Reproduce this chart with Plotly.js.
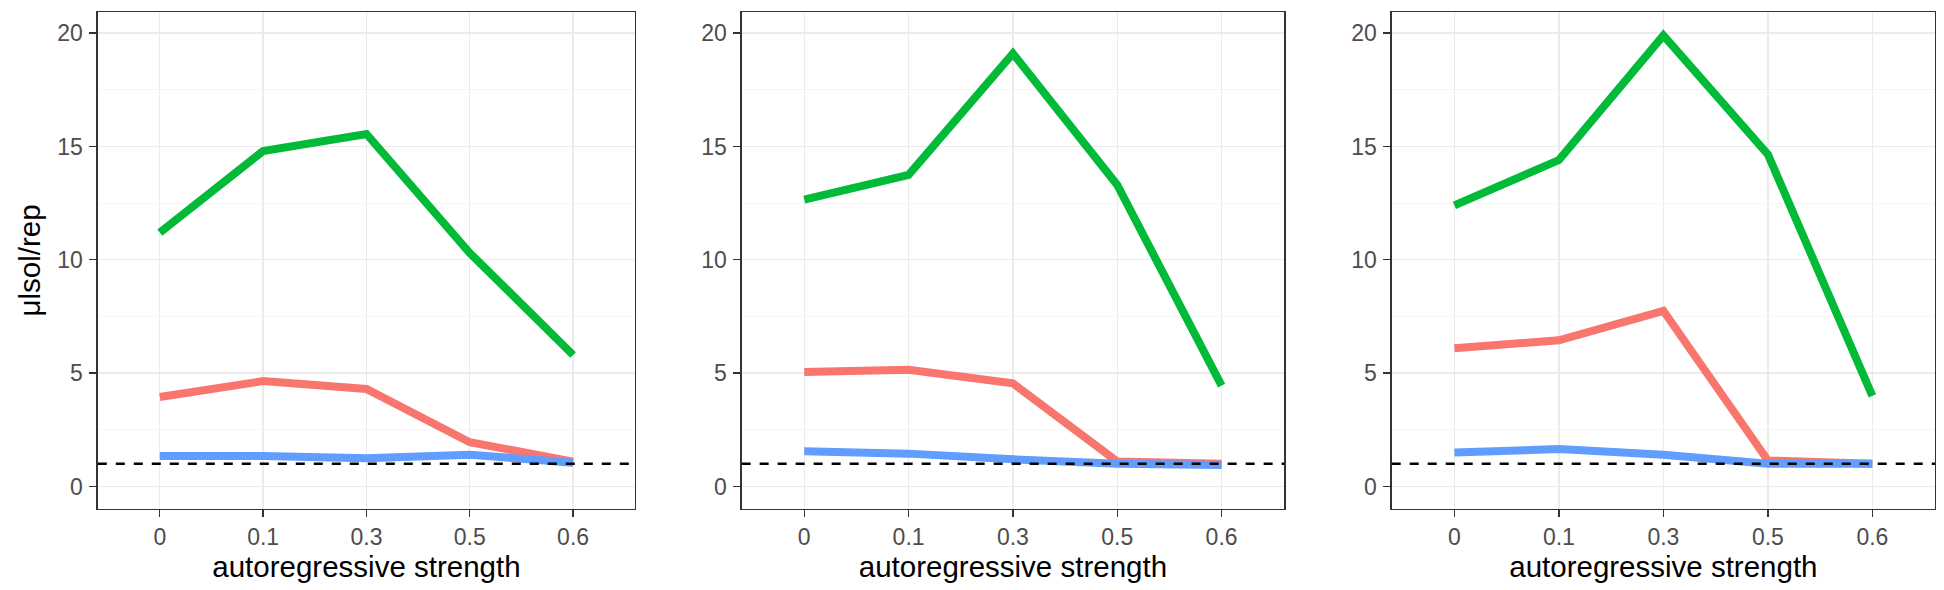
<!DOCTYPE html>
<html>
<head>
<meta charset="utf-8">
<script src="https://cdn.plot.ly/plotly-3.0.1.min.js"></script>
<style>
  body { margin: 0; background: #fff; }
  #plot { width: 1944px; height: 590px; }
</style>
</head>
<body>
<div id="plot"></div>
<script>
// categories on the x axis (shared by the three panels)
var strengths = ['0', '0.1', '0.3', '0.5', '0.6'];

// panel 1
var p1Red   = [3.95, 4.65, 4.3, 1.95, 1.1];
var p1Green = [11.2, 14.8, 15.55, 10.3, 5.8];
var p1Blue  = [1.35, 1.35, 1.25, 1.4, 1.05];

// panel 2
var p2Red   = [5.05, 5.15, 4.55, 1.1, 1.0];
var p2Green = [12.65, 13.75, 19.1, 13.3, 4.45];
var p2Blue  = [1.55, 1.45, 1.2, 1.0, 0.95];

// panel 3
var p3Red   = [6.1, 6.45, 7.75, 1.15, 1.0];
var p3Green = [12.4, 14.4, 19.9, 14.65, 4.0];
var p3Blue  = [1.5, 1.65, 1.4, 1.0, 1.0];

var refLevel = 1;

var red = '#F8766D', green = '#00BA38', blue = '#619CFF';

function line(y, color, n) {
  return {
    x: strengths,
    y: y,
    mode: 'lines',
    type: 'scatter',
    xaxis: 'x' + (n === 1 ? '' : n),
    yaxis: 'y' + (n === 1 ? '' : n),
    line: { color: color, width: 8 },
    hoverinfo: 'skip'
  };
}

var data = [
  line(p1Red, red, 1), line(p1Green, green, 1), line(p1Blue, blue, 1),
  line(p2Red, red, 2), line(p2Green, green, 2), line(p2Blue, blue, 2),
  line(p3Red, red, 3), line(p3Green, green, 3), line(p3Blue, blue, 3)
];

var font = 'Liberation Sans, Arial, sans-serif';

function xax(domain, anchor) {
  return {
    domain: domain,
    anchor: anchor,
    type: 'category',
    categoryorder: 'array',
    categoryarray: strengths,
    range: [-0.6, 4.6],
    showgrid: true,
    gridcolor: '#EBEBEB',
    gridwidth: 1.4,
    zeroline: false,
    showline: true,
    mirror: true,
    linecolor: '#333333',
    linewidth: 1.3,
    ticks: 'outside',
    ticklen: 7,
    tickwidth: 1.4,
    tickcolor: '#333333',
    tickfont: { family: font, size: 23, color: '#4D4D4D' },
    title: { text: 'autoregressive strength', font: { family: font, size: 29.5, color: '#000' }, standoff: 4 }
  };
}

function yax(anchor, title) {
  var a = {
    domain: [0.137, 0.980],
    anchor: anchor,
    range: [-1.0, 20.94],
    tickvals: [0, 5, 10, 15, 20],
    ticktext: ['0', '5', '10', '15', '20'],
    showgrid: true,
    gridcolor: '#EBEBEB',
    gridwidth: 1.4,
    minor: { tickvals: [2.5, 7.5, 12.5, 17.5], showgrid: true, gridcolor: '#F2F2F2', gridwidth: 0.8, ticks: '' },
    zeroline: false,
    showline: true,
    mirror: true,
    linecolor: '#333333',
    linewidth: 1.3,
    ticks: 'outside',
    ticklen: 7,
    tickwidth: 1.4,
    tickcolor: '#333333',
    tickfont: { family: font, size: 23, color: '#4D4D4D' },
    ticklabelstandoff: 2
  };
  if (title) a.title = { text: title, font: { family: font, size: 29.5, color: '#000' }, standoff: 8 };
  return a;
}

var shapes = [1, 2, 3].map(function (n) {
  var s = n === 1 ? '' : n;
  return {
    type: 'line',
    xref: 'x' + s + ' domain', x0: 0, x1: 1,
    yref: 'y' + s, y0: refLevel, y1: refLevel,
    line: { color: '#000', width: 2.5, dash: '9px,9px' },
    layer: 'above'
  };
});

var layout = {
  width: 1944,
  height: 590,
  margin: { l: 0, r: 0, t: 0, b: 0 },
  paper_bgcolor: '#fff',
  plot_bgcolor: '#fff',
  showlegend: false,
  xaxis: xax([0.0503, 0.3267], 'y'),
  xaxis2: xax([0.3815, 0.6606], 'y2'),
  xaxis3: xax([0.7159, 0.9954], 'y3'),
  yaxis: yax('x', 'μlsol/rep'),
  yaxis2: yax('x2'),
  yaxis3: yax('x3'),
  shapes: shapes
};

Plotly.newPlot('plot', data, layout, { staticPlot: true });
</script>
</body>
</html>
